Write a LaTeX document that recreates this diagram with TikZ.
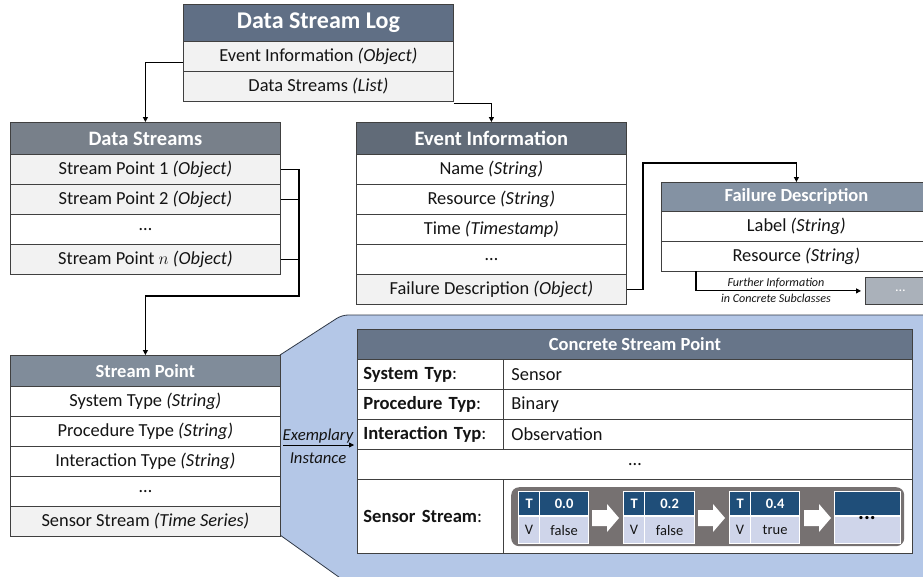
\documentclass[tikz,border=0pt]{standalone}
\usepackage{fontspec}
\setmainfont{Carlito}
\usetikzlibrary{arrows.meta,calc}
\definecolor{hdrA}{RGB}{96,111,133}
\definecolor{hdrB}{RGB}{120,128,138}
\definecolor{hdrC}{RGB}{97,107,120}
\definecolor{hdrD}{RGB}{132,146,163}
\definecolor{hdrE}{RGB}{128,140,154}
\definecolor{hdrF}{RGB}{103,117,137}
\definecolor{rowg}{RGB}{242,242,242}
\definecolor{bordc}{RGB}{64,64,64}
\definecolor{bluebg}{RGB}{180,199,231}
\definecolor{bluebd}{RGB}{47,56,70}
\definecolor{streamg}{RGB}{118,113,113}
\definecolor{tblue}{RGB}{31,78,121}
\definecolor{vlav}{RGB}{207,213,234}
\definecolor{dotg}{RGB}{170,177,186}
\definecolor{txt}{RGB}{20,20,20}
\newcommand{\myfs}[1]{\fontsize{#1}{#1}\selectfont}
\begin{document}
\begin{tikzpicture}[x=1pt,y=-1pt,
  cell/.style={draw=bordc, line width=0.8pt, anchor=north west, inner sep=0pt,
    minimum height=30pt, minimum width=270pt, font=\myfs{18.4}, text=txt},
  hdr/.style={cell, fill=#1, text=white, font=\bfseries\myfs{20.5}},
  lab/.style={cell, fill=white, minimum width=146pt, inner xsep=6pt, text width=134pt, align=left, font=\myfs{18.6}},
  val/.style={cell, fill=white, minimum width=409pt, inner xsep=8pt, text width=393pt, align=left, font=\myfs{18.4}},
  conn/.style={line width=1.1pt, draw=black},
  tip/.style={-{Triangle[length=5pt,width=5pt]}},
  th/.style={draw=white, line width=1.2pt, fill=tblue, text=white, font=\bfseries\myfs{14.5},
    anchor=north west, inner sep=0pt, minimum height=24pt},
  tv/.style={draw=white, line width=1.2pt, fill=vlav, text=txt, font=\myfs{14.5},
    anchor=north west, inner sep=0pt, minimum height=27pt},
  blkarrow/.pic={\fill[white] (-14,-8) -- (1,-8) -- (1,-14) -- (13,0) -- (1,14) -- (1,8) -- (-14,8) -- cycle;}
]
\useasboundingbox (0,0) rectangle (923,576);
\clip (0,0) rectangle (923,576);
\fill[white] (0,0) rectangle (923,576);

% blue instance area
\draw[fill=bluebg, draw=bluebd, line width=0.8pt]
  (280,355) [rounded corners=6pt] -- (342,315) [sharp corners] -- (935,315) -- (935,585)
  -- (350,585) -- (280,535) -- cycle;

% Data Stream Log
\node[hdr=hdrA, minimum height=37pt, font=\bfseries\myfs{24}] (dsl) at (183,4) {Data Stream Log};
\node[cell, fill=rowg] (dsl1) at (183,41) {Event Information \textit{(Object)}};
\node[cell, fill=rowg] (dsl2) at (183,71) {Data Streams \textit{(List)}};

% Data Streams
\node[hdr=hdrB, minimum height=32pt] (ds) at (10,122) {Data Streams};
\node[cell, fill=rowg] (ds1) at (10,154) {Stream Point 1 \textit{(Object)}};
\node[cell, fill=rowg] (ds2) at (10,184) {Stream Point 2 \textit{(Object)}};
\node[cell, fill=white] (ds3) at (10,214) {…};
\node[cell, fill=rowg] (ds4) at (10,244) {Stream Point $n$ \textit{(Object)}};

% Event Information
\node[hdr=hdrC, minimum height=32pt] (ei) at (356,122) {Event Information};
\node[cell, fill=white] (ei1) at (356,154) {Name \textit{(String)}};
\node[cell, fill=white] (ei2) at (356,184) {Resource \textit{(String)}};
\node[cell, fill=white] (ei3) at (356,214) {Time \textit{(Timestamp)}};
\node[cell, fill=white] (ei4) at (356,244) {…};
\node[cell, fill=rowg] (ei5) at (356,274) {Failure Description \textit{(Object)}};

% Failure Description
\node[hdr=hdrD, minimum height=29pt, font=\bfseries\myfs{18.5}] (fd) at (661,182) {Failure Description};
\node[cell, fill=white] (fd1) at (661,211) {Label \textit{(String)}};
\node[cell, fill=white] (fd2) at (661,241) {Resource \textit{(String)}};
\node[draw=bordc, line width=0.8pt, fill=dotg, minimum width=70pt, minimum height=27pt,
  anchor=north west, inner sep=0pt, text=white, font=\myfs{14}] (fdx) at (865,277) {…};
\node[font=\itshape\myfs{12.1}, text=txt, inner sep=0pt] (fi1) at (776,283) {Further Information};
\node[font=\itshape\myfs{12.1}, text=txt, inner sep=0pt] (fi2) at (776,298) {in Concrete Subclasses};

% Stream Point
\node[hdr=hdrE, minimum height=31pt, font=\bfseries\myfs{18.5}] (sp) at (10,355) {Stream Point};
\node[cell, fill=white] (sp1) at (10,386) {System Type \textit{(String)}};
\node[cell, fill=white] (sp2) at (10,416) {Procedure Type \textit{(String)}};
\node[cell, fill=white] (sp3) at (10,446) {Interaction Type \textit{(String)}};
\node[cell, fill=white] (sp4) at (10,476) {…};
\node[cell, fill=rowg] (sp5) at (10,506) {Sensor Stream \textit{(Time Series)}};

% Concrete Stream Point
\node[hdr=hdrF, minimum width=555pt, minimum height=30pt, font=\bfseries\myfs{18.5}] (cc) at (357,329) {Concrete Stream Point};
\node[lab] (cl1) at (357,359) {\textbf{System Typ}:};
\node[val] (cv1) at (503,359) {Sensor};
\node[lab] (cl2) at (357,389) {\textbf{Procedure Typ}:};
\node[val] (cv2) at (503,389) {Binary};
\node[lab] (cl3) at (357,419) {\textbf{Interaction Typ}:};
\node[val] (cv3) at (503,419) {Observation};
\node[cell, fill=white, minimum width=555pt] (cl4) at (357,449) {…};
\node[lab, minimum height=74pt] (cl5) at (357,479) {\textbf{Sensor Stream}:};
\node[val, minimum height=74pt] (cv5) at (503,479) {};

% sensor stream strip
\node[fill=streamg, draw=none, rounded corners=8pt, minimum width=393pt, minimum height=59pt,
  anchor=north west, inner sep=0pt] (sbox) at (511,487) {};
\node[th, minimum width=21pt] (t1) at (518,491) {T};
\node[th, minimum width=49pt] (t1v) at (539,491) {0.0};
\node[tv, minimum width=21pt] (v1) at (518,516) {V};
\node[tv, minimum width=49pt] (v1v) at (539,516) {false};
\node[th, minimum width=21pt] (t2) at (623,491) {T};
\node[th, minimum width=50pt] (t2v) at (644,491) {0.2};
\node[tv, minimum width=21pt] (v2) at (623,516) {V};
\node[tv, minimum width=50pt] (v2v) at (644,516) {false};
\node[th, minimum width=21pt] (t3) at (729,491) {T};
\node[th, minimum width=49pt] (t3v) at (750,491) {0.4};
\node[tv, minimum width=21pt] (v3) at (729,516) {V};
\node[tv, minimum width=49pt] (v3v) at (750,516) {true};
\node[th, minimum width=66pt] (t4) at (834,491) {};
\node[tv, minimum width=66pt] (v4) at (834,516) {};
\node[font=\bfseries\myfs{22}, text=black, inner sep=0pt] (dots4) at (867,518) {...};
\pic at (606,518) {blkarrow};
\pic at (712,518) {blkarrow};
\pic at (818,518) {blkarrow};

% Exemplary instance
\node[font=\itshape\myfs{16.7}, text=txt, inner sep=0pt] (ex1) at (318,436) {Exemplary};
\node[font=\itshape\myfs{16.7}, text=txt, inner sep=0pt] (ex2) at (318,458) {Instance};
\coordinate (exs) at (283,445);
\draw[conn, line width=0.8pt, tip, shorten >=3pt] (exs) -- (exs -| cc.west);

% connectors
\draw[conn, tip] ([yshift=-6pt]dsl1.west) -| (ds.north);
\draw[conn, tip] ([yshift=-2pt]dsl2.south east) -| (ei.north);
\coordinate (jA) at (299,169);
\coordinate (jB) at (299,296);
\draw[conn] (ds1.east) -- (jA |- ds1.east);
\draw[conn] (ds2.east) -- (jA |- ds2.east);
\draw[conn] (ds4.east) -- (jA |- ds4.east);
\draw[conn, tip] (jA) -- (jB) -| (sp.north);
\coordinate (jC) at (643,163);
\draw[conn, tip] (ei5.east) -| (jC) -| (fd.north);
\coordinate (jD) at (696,271);
\draw[conn, tip, shorten >=4pt] (jD) |- (fdx.west);
\end{tikzpicture}
\end{document}
